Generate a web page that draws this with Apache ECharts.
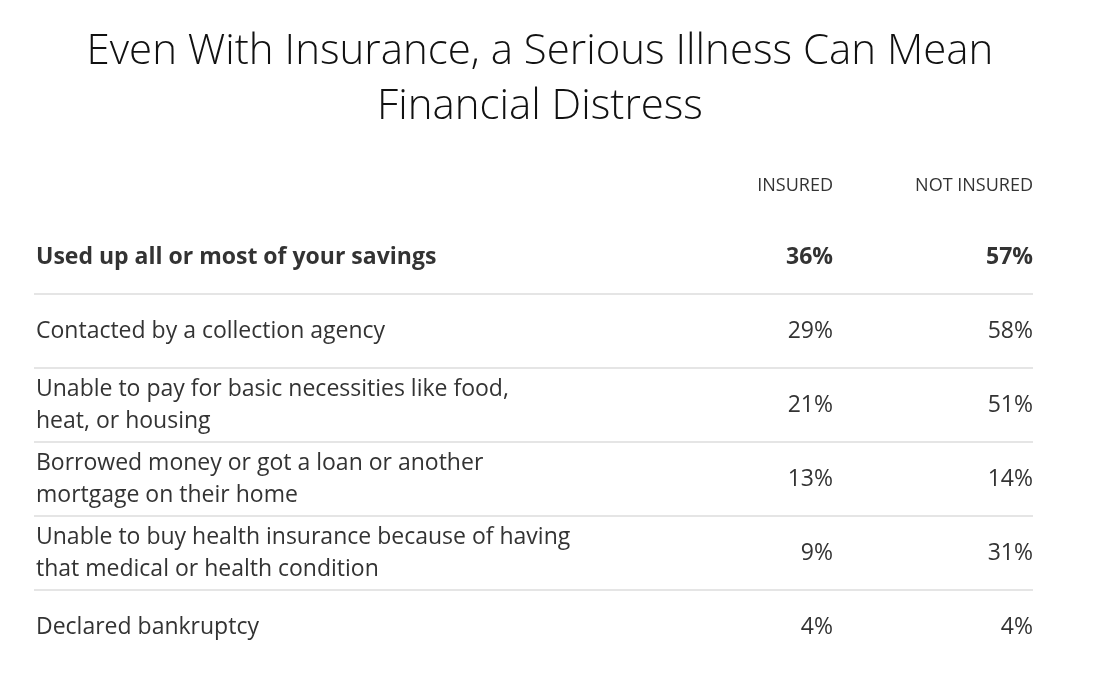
<!DOCTYPE html>
<html>
<head>
<meta charset="utf-8">
<script src="https://cdn.jsdelivr.net/npm/echarts@6/dist/echarts.min.js"></script>
<style>
  html, body { margin: 0; padding: 0; background: #fff; }
  #chart { width: 1118px; height: 684px; }
</style>
</head>
<body>
<div id="chart"></div>
<script>
// table data
var rowLabels = [
    "Used up all or most of your savings",
    "Contacted by a collection agency",
    "Unable to pay for basic necessities like food,\nheat, or housing",
    "Borrowed money or got a loan or another\nmortgage on their home",
    "Unable to buy health insurance because of having\nthat medical or health condition",
    "Declared bankruptcy"
];
var insured = [36, 29, 21, 13, 9, 4];
var notInsured = [57, 58, 51, 14, 31, 4];
var columnHeaders = ["INSURED", "NOT INSURED"];

var font = "'Open Sans', 'Liberation Sans', sans-serif";
var chart = echarts.init(document.getElementById("chart"));

var rows = [];
for (var i = 0; i < rowLabels.length; i++) {
    rows.push([0, i, insured[i], notInsured[i]]);
}

function renderRow(params, api) {
    var idx = api.value(1);
    var pt = api.coord([0, idx]);
    var right = api.coord([1, idx])[0];
    var h = api.size([0, 1])[1];
    var bold = idx === 0;
    var txtStyle = function (text, x, align) {
        return {
            type: "text",
            style: {
                text: text, x: x, y: pt[1], align: align, verticalAlign: "middle",
                font: (bold ? "bold " : "") + "23px " + font, fill: "#333", lineHeight: 32
            }
        };
    };
    var children = [
        txtStyle(rowLabels[idx], pt[0], "left"),
        txtStyle(api.value(2) + "%", right - 200, "right"),
        txtStyle(api.value(3) + "%", right, "right")
    ];
    if (idx < rowLabels.length - 1) {
        children.push({
            type: "line",
            shape: { x1: pt[0] - 2, y1: pt[1] + h / 2, x2: right, y2: pt[1] + h / 2 },
            style: { stroke: "#dcdcdc", lineWidth: 1.5 }
        });
    }
    if (idx === 0) {
        children.push({
            type: "text",
            style: { text: columnHeaders[0], x: right - 200, y: pt[1] - 71, align: "right",
                verticalAlign: "middle", font: "18px " + font, fill: "#333" }
        }, {
            type: "text",
            style: { text: columnHeaders[1], x: right, y: pt[1] - 71, align: "right",
                verticalAlign: "middle", font: "18px " + font, fill: "#333" }
        });
    }
    return { type: "group", children: children };
}

chart.setOption({
    animation: false,
    title: {
        text: "Even With Insurance, a Serious Illness Can Mean\nFinancial Distress",
        left: 535,
        textAlign: "center",
        top: 20,
        textStyle: { fontFamily: font, fontWeight: 300, fontSize: 42, lineHeight: 55, color: "#111" }
    },
    grid: { left: 36, right: 85, top: 220, bottom: 20 },
    xAxis: { type: "value", min: 0, max: 1, show: false },
    yAxis: { type: "category", inverse: true, data: rowLabels, show: false },
    series: [{
        type: "custom",
        renderItem: renderRow,
        data: rows
    }]
});
</script>
</body>
</html>
